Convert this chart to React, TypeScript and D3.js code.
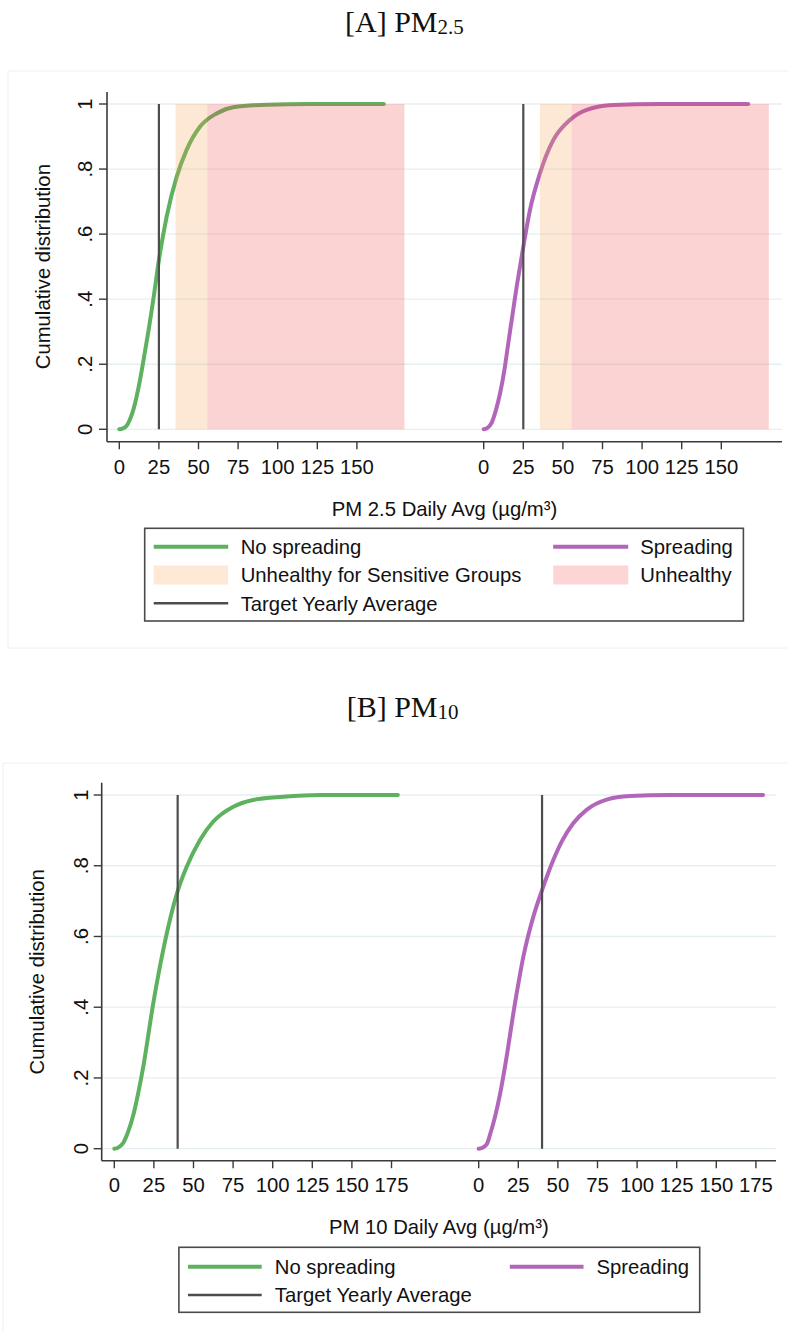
import React from "react";
import * as d3 from "d3";

// ---------- Data ----------
const xTicksA = [0, 25, 50, 75, 100, 125, 150];
const xTicksB = [0, 25, 50, 75, 100, 125, 150, 175];
const yTicks = [0, 0.2, 0.4, 0.6, 0.8, 1];
const yTickLabels = ["0", ".2", ".4", ".6", ".8", "1"];

// PM2.5 CDF points [value, cumulative share]
const pm25NoSpreading: [number, number][] = [
  [0, 0], [2, 0.002], [4.5, 0.01], [6.5, 0.028], [8.8, 0.059], [12, 0.125], [15.2, 0.21],
  [18.5, 0.305], [21.5, 0.4], [25, 0.52], [29.9, 0.654], [36.2, 0.776], [42.5, 0.859],
  [50.9, 0.93], [61.4, 0.971], [72, 0.99], [92.8, 0.998], [120, 1], [167, 1],
];
const pm25Spreading: [number, number][] = [
  [0, 0], [2, 0.003], [5, 0.02], [7.5, 0.055], [10.3, 0.11], [13, 0.18], [15.5, 0.264],
  [20.8, 0.438], [25, 0.561], [29.2, 0.674], [35.5, 0.787], [43.9, 0.889], [54.4, 0.951],
  [65, 0.982], [81.8, 0.997], [110, 1], [167, 1],
];
// PM10 CDF points
const pm10NoSpreading: [number, number][] = [
  [0, 0], [2, 0.002], [5.7, 0.017], [8.5, 0.045], [12, 0.095], [15, 0.155], [18.3, 0.232],
  [24.6, 0.411], [30.9, 0.562], [40.2, 0.731], [45.7, 0.797], [54.1, 0.873], [62.5, 0.925],
  [75.1, 0.967], [87.7, 0.986], [106.6, 0.995], [130, 1], [179, 1],
];
const pm10Spreading: [number, number][] = [
  [0, 0], [2, 0.002], [5, 0.012], [7.5, 0.045], [10.3, 0.09], [13.5, 0.155], [16.6, 0.232],
  [22.9, 0.411], [28.2, 0.543], [34.5, 0.656], [40, 0.731], [47.1, 0.816], [52.4, 0.868],
  [59.7, 0.92], [68.1, 0.958], [80.8, 0.987], [95.5, 0.997], [120, 1], [179.5, 1],
];

// AQI bands (PM2.5) and yearly targets
const usgBand = [35.5, 55.5];
const unhealthyBand = [55.5, 180];
const targetPM25 = 25;
const targetPM10 = 40;

const legendA = [
  { label: "No spreading", kind: "line", color: "#5eb15e" },
  { label: "Spreading", kind: "line", color: "#b266b9" },
  { label: "Unhealthy for Sensitive Groups", kind: "rect", color: "#fde9d5" },
  { label: "Unhealthy", kind: "rect", color: "#fdd5d5" },
  { label: "Target Yearly Average", kind: "target", color: "#4d4d4d" },
];
const legendB = [
  { label: "No spreading", kind: "line", color: "#5eb15e" },
  { label: "Spreading", kind: "line", color: "#b266b9" },
  { label: "Target Yearly Average", kind: "target", color: "#4d4d4d" },
];

// ---------- Style ----------
const GREEN = "#5eb15e";
const PURPLE = "#b266b9";
const TARGET = "#4d4d4d";
const AXIS = "#3a3a3a";
const GRID = "#e6eff0";
const SANS = "'Liberation Sans', Arial, sans-serif";
const SERIF = "'Liberation Serif', 'Times New Roman', serif";
const FS = 20.3;

type PanelCfg = {
  yTop: number; yBottom: number;
  axisX: number; axisTop: number; axisY: number; axisRight: number;
  x0Left: number; x0Right: number; pxPer25: number;
  xTicks: number[];
  tickLabelBaseline: number;
  yLabelBaselineX: number;
  yTitleX: number;
  xTitle: string; xTitleY: number;
  curves: { data: [number, number][]; color: string; side: 0 | 1 }[];
  target: number;
  bands: boolean;
};

function Panel({ c }: { c: PanelCfg }) {
  const y = d3.scaleLinear().domain([0, 1]).range([c.yBottom, c.yTop]);
  const xs = [c.x0Left, c.x0Right].map((x0) =>
    d3.scaleLinear().domain([0, 25]).range([x0, x0 + c.pxPer25])
  );
  const line = (sx: d3.ScaleLinear<number, number>) =>
    d3
      .line<[number, number]>()
      .x((d) => sx(d[0]))
      .y((d) => y(d[1]))
      .curve(d3.curveMonotoneX);
  const yMid = (c.yTop + c.yBottom) / 2;
  const xMid = (c.axisX + c.axisRight) / 2;
  return (
    <g>
      {yTicks.map((t) => (
        <line key={"g" + t} x1={c.axisX} x2={c.axisRight} y1={y(t)} y2={y(t)} stroke={GRID} strokeWidth={1.3} />
      ))}
      {c.curves.map((cv, i) => (
        <path key={"c" + i} d={line(xs[cv.side])(cv.data) || ""} fill="none" stroke={cv.color} strokeWidth={4} strokeLinecap="round" strokeLinejoin="round" />
      ))}
      {xs.map((sx, i) => (
        <line key={"t" + i} x1={sx(c.target)} x2={sx(c.target)} y1={y(0)} y2={y(1)} stroke={TARGET} strokeWidth={2.2} />
      ))}
      {c.bands &&
        xs.map((sx, i) => (
          <g key={"b" + i}>
            <rect x={sx(usgBand[0])} width={sx(usgBand[1]) - sx(usgBand[0])} y={y(1)} height={y(0) - y(1)} fill="rgb(245,165,85)" fillOpacity={0.25} />
            <rect x={sx(unhealthyBand[0])} width={sx(unhealthyBand[1]) - sx(unhealthyBand[0])} y={y(1)} height={y(0) - y(1)} fill="rgb(245,80,80)" fillOpacity={0.25} />
          </g>
        ))}
      <line x1={c.axisX} x2={c.axisX} y1={c.axisTop} y2={c.axisY} stroke={AXIS} strokeWidth={1.6} />
      <line x1={c.axisX} x2={c.axisRight} y1={c.axisY} y2={c.axisY} stroke={AXIS} strokeWidth={1.6} />
      {yTicks.map((t, i) => (
        <g key={"yt" + t}>
          <line x1={c.axisX - 8} x2={c.axisX} y1={y(t)} y2={y(t)} stroke={AXIS} strokeWidth={1.4} />
          <text
            transform={`translate(${c.yLabelBaselineX},${y(t)}) rotate(-90)`}
            textAnchor="middle" fontFamily={SANS} fontSize={FS} fill="#111"
          >
            {yTickLabels[i]}
          </text>
        </g>
      ))}
      {xs.map((sx, i) =>
        c.xTicks.map((t) => (
          <g key={"xt" + i + "_" + t}>
            <line x1={sx(t)} x2={sx(t)} y1={c.axisY} y2={c.axisY + 7.5} stroke={AXIS} strokeWidth={1.4} />
            <text x={sx(t)} y={c.tickLabelBaseline} textAnchor="middle" fontFamily={SANS} fontSize={FS} fill="#111">
              {t}
            </text>
          </g>
        ))
      )}
      <text
        transform={`translate(${c.yTitleX},${yMid}) rotate(-90)`}
        textAnchor="middle" fontFamily={SANS} fontSize={FS} fill="#111"
      >
        Cumulative distribution
      </text>
      <text x={xMid} y={c.xTitleY} textAnchor="middle" fontFamily={SANS} fontSize={FS} fill="#111">
        {c.xTitle}
      </text>
    </g>
  );
}

type LegendItem = { label: string; kind: string; color: string };
function Legend({
  items, box, rows, cols,
}: {
  items: LegendItem[];
  box: [number, number, number, number];
  rows: number[];
  cols: { s0: number; s1: number; tx: number }[];
}) {
  return (
    <g>
      <rect x={box[0]} y={box[1]} width={box[2] - box[0]} height={box[3] - box[1]} fill="white" stroke="#4a4a4a" strokeWidth={1.6} />
      {items.map((it, i) => {
        const r = rows[Math.floor(i / 2)];
        const col = cols[i % 2];
        return (
          <g key={it.label}>
            {it.kind === "line" && (
              <line x1={col.s0} x2={col.s1} y1={r} y2={r} stroke={it.color} strokeWidth={4} />
            )}
            {it.kind === "rect" && (
              <rect x={col.s0} width={col.s1 - col.s0} y={r - 9.5} height={19} fill={it.color} />
            )}
            {it.kind === "target" && (
              <line x1={col.s0} x2={col.s1} y1={r} y2={r} stroke={it.color} strokeWidth={2.4} />
            )}
            <text x={col.tx} y={r + 7.3} fontFamily={SANS} fontSize={FS} fill="#111">
              {it.label}
            </text>
          </g>
        );
      })}
    </g>
  );
}

export default function App() {
  const panelA: PanelCfg = {
    yTop: 104, yBottom: 429.3,
    axisX: 107, axisTop: 92, axisY: 441.7, axisRight: 782,
    x0Left: 119.3, x0Right: 483.7, pxPer25: 39.6,
    xTicks: xTicksA,
    tickLabelBaseline: 474,
    yLabelBaselineX: 92,
    yTitleX: 50,
    xTitle: "PM 2.5 Daily Avg (µg/m³)", xTitleY: 515.5,
    curves: [
      { data: pm25NoSpreading, color: GREEN, side: 0 },
      { data: pm25Spreading, color: PURPLE, side: 1 },
    ],
    target: targetPM25,
    bands: true,
  };
  const panelB: PanelCfg = {
    yTop: 795, yBottom: 1148.7,
    axisX: 101.7, axisTop: 782.7, axisY: 1160.7, axisRight: 776,
    x0Left: 114.3, x0Right: 478.7, pxPer25: 39.6,
    xTicks: xTicksB,
    tickLabelBaseline: 1192.3,
    yLabelBaselineX: 87.5,
    yTitleX: 44,
    xTitle: "PM 10 Daily Avg (µg/m³)", xTitleY: 1234,
    curves: [
      { data: pm10NoSpreading, color: GREEN, side: 0 },
      { data: pm10Spreading, color: PURPLE, side: 1 },
    ],
    target: targetPM10,
    bands: false,
  };
  return (
    <svg width={788} height={1332} style={{ position: "absolute", left: 0, top: 0, background: "white" }}>
      <rect x={0} y={0} width={788} height={1332} fill="white" />
      <rect x={8} y={71} width={800} height={577} fill="none" stroke="#f0f0f0" strokeWidth={1} />
      <rect x={3} y={763} width={805} height={600} fill="none" stroke="#f0f0f0" strokeWidth={1} />
      <text x={345} y={32.3} fontFamily={SERIF} fontSize={30} fill="#111">
        [A] PM<tspan fontSize={21} dy={2}>2.5</tspan>
      </text>
      <text x={346.7} y={716.7} fontFamily={SERIF} fontSize={30} fill="#111">
        [B] PM<tspan fontSize={21} dy={2}>10</tspan>
      </text>
      <Panel c={panelA} />
      <Panel c={panelB} />
      <Legend
        items={legendA}
        box={[144.7, 528.3, 743.4, 621]}
        rows={[546.7, 575, 603.3]}
        cols={[{ s0: 153.7, s1: 228.2, tx: 240.7 }, { s0: 553.2, s1: 628.2, tx: 640.3 }]}
      />
      <Legend
        items={legendB}
        box={[178.9, 1247.3, 699.7, 1312.3]}
        rows={[1266.7, 1295]}
        cols={[{ s0: 188, s1: 261.7, tx: 274.8 }, { s0: 509.8, s1: 583.5, tx: 596.5 }]}
      />
    </svg>
  );
}
